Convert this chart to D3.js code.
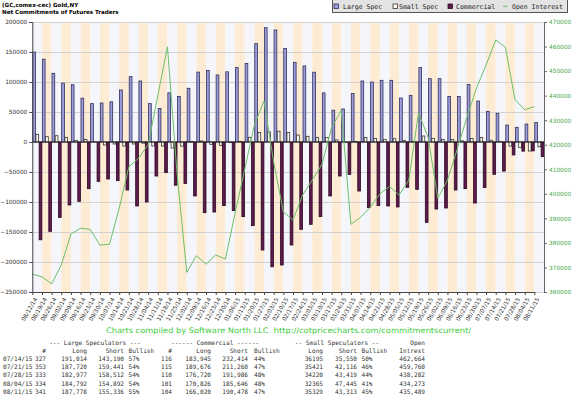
<!DOCTYPE html>
<html lang="en">
<head>
<meta charset="UTF-8">
<title>Gold COT</title>
<script src="https://d3js.org/d3.v7.min.js"></script>
<style>
  * { margin: 0; padding: 0; }
  body { background: #fff; }
  svg { display: block; font-family: "DejaVu Sans", Verdana, sans-serif; }
  .mono { font-family: "DejaVu Sans Mono", monospace; }
</style>
</head>
<body>
<div id="chart"></div>
<script>
// weekly report dates
const weeks = ["08/12/14","08/19/14","08/26/14","09/02/14","09/09/14","09/16/14","09/23/14","09/30/14",
  "10/07/14","10/14/14","10/21/14","10/28/14","11/04/14","11/11/14","11/18/14","11/25/14",
  "12/02/14","12/09/14","12/16/14","12/23/14","12/30/14","01/06/15","01/13/15","01/20/15","01/27/15",
  "02/03/15","02/10/15","02/17/15","02/24/15","03/03/15","03/10/15","03/17/15","03/24/15","03/31/15",
  "04/07/15","04/14/15","04/21/15","04/28/15","05/05/15","05/12/15","05/19/15","05/26/15",
  "06/02/15","06/09/15","06/16/15","06/23/15","06/30/15","07/07/15","07/14/15","07/21/15","07/28/15",
  "08/04/15","08/11/15"];

// net positions
const largeSpec = [150000,138000,114500,98000,95500,73000,64000,65000,67000,86700,
  109000,101700,64000,56000,82000,76000,89500,116500,119400,111700,
  117000,124000,131000,164000,190500,186700,156000,132800,126800,116300,
  81800,53000,55000,81000,101700,100000,102800,102800,73300,77800,
  124000,105600,105600,76000,76000,96000,68300,51000,47824,28279,
  24465,29900,32442];
const smallSpec = [12800,8900,10500,7800,2800,4400,500,-5000,-3300,-6700,
  -3300,-2000,-6700,-6700,-10000,-7000,800,1700,-3900,-5600,
  -1100,1000,7800,16000,17000,18000,16000,11700,9500,7800,
  7500,3500,-800,700,7700,6000,4000,5500,2300,1000,
  10000,6000,4400,4000,2000,6000,7700,2900,645,-6695,
  -9199,-15080,-7984];
const commercial = [-163000,-149000,-125600,-105000,-98900,-77800,-65600,-61700,-64400,-80000,
  -106700,-100000,-56700,-51000,-72000,-69000,-90000,-117800,-116700,-106000,
  -114400,-124400,-139400,-180000,-208000,-205000,-171700,-145600,-137200,-124400,
  -90000,-56700,-53900,-81700,-109400,-106000,-106700,-108300,-75600,-78900,
  -133900,-111700,-110000,-80000,-77800,-101700,-76000,-53900,-48469,-21584,
  -15266,-14820,-24458];
const openInterest = [367300,366200,363300,371000,383600,386000,385500,379100,379500,394100,
  411000,414500,420000,440000,459900,408000,368000,374800,371300,375100,
  373400,392000,410000,428000,437800,413000,392700,389300,399500,405600,
  412000,427000,434000,387600,390400,394500,400000,403000,399500,405600,
  433000,423000,398200,405600,418000,431000,443000,452500,462664,459760,
  438282,434273,435489];

const leftTicks = d3.range(-250000, 200001, 50000);
const rightTicks = d3.range(360000, 470001, 10000);

// table under the chart
const tblDates = ["07/14/15","07/21/15","07/28/15","08/04/15","08/11/15"];
const lsNum = [327,353,333,334,341];
const lsLong = [191014,187720,182977,184792,187778];
const lsShort = [143190,159441,158512,154892,155336];
const lsBull = [57,54,54,54,55];
const cmNum = [116,115,110,101,104];
const cmLong = [183945,189676,176720,170826,166020];
const cmShort = [232414,211260,191986,185646,190478];
const cmBull = [44,47,48,48,47];
const ssLong = [36195,35421,34220,32365,35329];
const ssShort = [35550,42116,43419,47445,43313];
const ssBull = [50,46,44,41,45];
const oiTbl = [462664,459760,438282,434273,435489];

const W = 576, H = 397;
const pLeft = 32.3, pRight = 544, pTop = 22, pBottom = 292;

const svg = d3.select("#chart").append("svg")
  .attr("width", W).attr("height", H);

const x = d3.scaleBand().domain(weeks).range([pLeft, pRight]);
const xp = d3.scalePoint().domain(weeks).range([pLeft, pRight - x.bandwidth()]);
const xs = d3.scaleBand().domain(["ls", "ss", "cm"]).range([0, x.bandwidth()]);
const yL = d3.scaleLinear().domain([-250000, 200000]).range([pBottom, pTop]);
const yR = d3.scaleLinear().domain([360000, 470000]).range([pBottom, pTop]);

// alternating week bands
svg.append("g").selectAll("rect").data(weeks).join("rect")
  .attr("x", d => x(d)).attr("y", pTop)
  .attr("width", x.bandwidth()).attr("height", pBottom - pTop)
  .attr("fill", (d, i) => i % 2 ? "#fdebd3" : "#f4f6fc");

// grid
svg.append("g").selectAll("line").data(leftTicks.filter(v => v !== 0)).join("line")
  .attr("x1", pLeft).attr("x2", pRight)
  .attr("y1", d => yL(d)).attr("y2", d => yL(d))
  .attr("stroke", "#d2d2d2").attr("stroke-width", 1)
  .attr("shape-rendering", "crispEdges");

// bars
const series = [
  { key: "ls", vals: largeSpec, fill: "#9d9ddb", stroke: "#2e2e5a" },
  { key: "ss", vals: smallSpec, fill: "#fffdf0", stroke: "#333" },
  { key: "cm", vals: commercial, fill: "#5e1b4d", stroke: "#2a0820" }
];
series.forEach(s => {
  svg.append("g").selectAll("rect").data(s.vals).join("rect")
    .attr("x", (d, i) => x(weeks[i]) + xs(s.key) + 0.4)
    .attr("width", xs.bandwidth() - 0.5)
    .attr("y", d => Math.min(yL(d), yL(0)))
    .attr("height", d => Math.abs(yL(d) - yL(0)))
    .attr("fill", s.fill).attr("stroke", s.stroke).attr("stroke-width", 0.8);
});

// zero line
svg.append("line").attr("x1", pLeft).attr("x2", pRight)
  .attr("y1", yL(0)).attr("y2", yL(0))
  .attr("stroke", "#222").attr("stroke-width", 1.2);

// open interest line
svg.append("path").datum(openInterest)
  .attr("d", d3.line().x((d, i) => xp(weeks[i])).y(d => yR(d)))
  .attr("fill", "none").attr("stroke", "#6cbf68").attr("stroke-width", 1);

// axes
const gL = svg.append("g").attr("transform", `translate(${pLeft},0)`)
  .call(d3.axisLeft(yL).tickValues(leftTicks).tickSize(3).tickPadding(2).tickFormat(d3.format("d")));
gL.selectAll("text").attr("font-size", 5.8).attr("fill", "#333").attr("font-family", "DejaVu Sans");
gL.selectAll("line,path").attr("stroke", "#444");

const gR = svg.append("g").attr("transform", `translate(${pRight},0)`)
  .call(d3.axisRight(yR).tickValues(rightTicks).tickSize(3).tickPadding(2).tickFormat(d3.format("d")));
gR.selectAll("text").attr("font-size", 5.8).attr("fill", "#4aa84a").attr("font-family", "DejaVu Sans");
gR.selectAll("line,path").attr("stroke", "#666");

const gB = svg.append("g").attr("transform", `translate(0,${pBottom})`)
  .call(d3.axisBottom(xp).tickSize(3).tickSizeOuter(0));
gB.selectAll("path,line").attr("stroke", "#444");
gB.selectAll("text")
  .attr("font-size", 5.8).attr("fill", "#333").attr("font-family", "DejaVu Sans")
  .attr("x", 0).attr("y", 0).attr("dy", "0.35em")
  .attr("transform", "translate(3,6) rotate(-60)")
  .style("text-anchor", "end");

// title
svg.append("text").attr("x", 2).attr("y", 7)
  .attr("font-size", 5.6).attr("font-weight", "bold").text("(GC,comex-cec) Gold,NY");
svg.append("text").attr("x", 2).attr("y", 13.5)
  .attr("font-size", 5.6).attr("font-weight", "bold").text("Net Commitments of Futures Traders");

// legend
const lg = svg.append("g").attr("class", "mono").attr("font-size", 6.5);
lg.append("rect").attr("x", 332.5).attr("y", -0.5).attr("width", 235).attr("height", 13)
  .attr("fill", "#e3e3e3").attr("stroke", "#555");
const legendItems = [
  { label: "Large Spec", sx: 334, tx: 343, fill: "#9d9ddb", stroke: "#2e2e5a" },
  { label: "Small Spec", sx: 393, tx: 399, fill: "#fffdf0", stroke: "#333" },
  { label: "Commercial", sx: 448, tx: 456, fill: "#5e1b4d", stroke: "#2a0820" }
];
legendItems.forEach(d => {
  lg.append("rect").attr("x", d.sx).attr("y", 4).attr("width", 4.5).attr("height", 4.5)
    .attr("fill", d.fill).attr("stroke", d.stroke).attr("stroke-width", 0.8);
  lg.append("text").attr("x", d.tx).attr("y", 8.6).attr("fill", "#222").text(d.label);
});
lg.append("line").attr("x1", 503).attr("x2", 507.5).attr("y1", 6.3).attr("y2", 6.3)
  .attr("stroke", "#6cbf68").attr("stroke-width", 1);
lg.append("text").attr("x", 512).attr("y", 8.6).attr("fill", "#222").text("Open Interest");

// caption
svg.append("text").attr("x", 106).attr("y", 333)
  .attr("font-size", 7.6).attr("fill", "#3ccc3c")
  .attr("textLength", 365).attr("lengthAdjust", "spacingAndGlyphs")
  .style("white-space", "pre")
  .text("Charts compiled by Software North LLC  http://cotpricecharts.com/commitmentscurrent/");

// table
const fmt = d3.format(",");
const tb = svg.append("g").attr("class", "mono").attr("font-size", 6.1).attr("fill", "#333")
  .style("white-space", "pre");
const rowY = i => 345 + i * 8.1;
[["--- Large Speculators ---", 95, "middle"],
 ["------ Commercial ------", 215, "middle"],
 ["-- Small Speculators --", 337, "middle"],
 ["Open", 425, "end"]].forEach(h => {
  tb.append("text").attr("x", h[1]).attr("y", rowY(0)).attr("text-anchor", h[2]).text(h[0]);
});
const cols = [
  { x: 3, a: "start", h: "", v: i => tblDates[i] },
  { x: 46, a: "end", h: "#", v: i => lsNum[i] },
  { x: 87, a: "end", h: "Long", v: i => fmt(lsLong[i]) },
  { x: 124, a: "end", h: "Short", v: i => fmt(lsShort[i]) },
  { x: 128.5, a: "start", h: "Bullish", v: i => lsBull[i] + "%" },
  { x: 172, a: "end", h: "#", v: i => cmNum[i] },
  { x: 211, a: "end", h: "Long", v: i => fmt(cmLong[i]) },
  { x: 248, a: "end", h: "Short", v: i => fmt(cmShort[i]) },
  { x: 254, a: "start", h: "Bullish", v: i => cmBull[i] + "%" },
  { x: 323, a: "end", h: "Long", v: i => ssLong[i] },
  { x: 357, a: "end", h: "Short", v: i => fmt(ssShort[i]) },
  { x: 361.5, a: "start", h: "Bullish", v: i => ssBull[i] + "%" },
  { x: 425, a: "end", h: "Intrest", v: i => fmt(oiTbl[i]) }
];
cols.forEach(c => {
  tb.append("text").attr("x", c.x).attr("y", rowY(1)).attr("text-anchor", c.a).text(c.h);
  tblDates.forEach((d, i) => {
    tb.append("text").attr("x", c.x).attr("y", rowY(i + 2)).attr("text-anchor", c.a).text(c.v(i));
  });
});
</script>
</body>
</html>
